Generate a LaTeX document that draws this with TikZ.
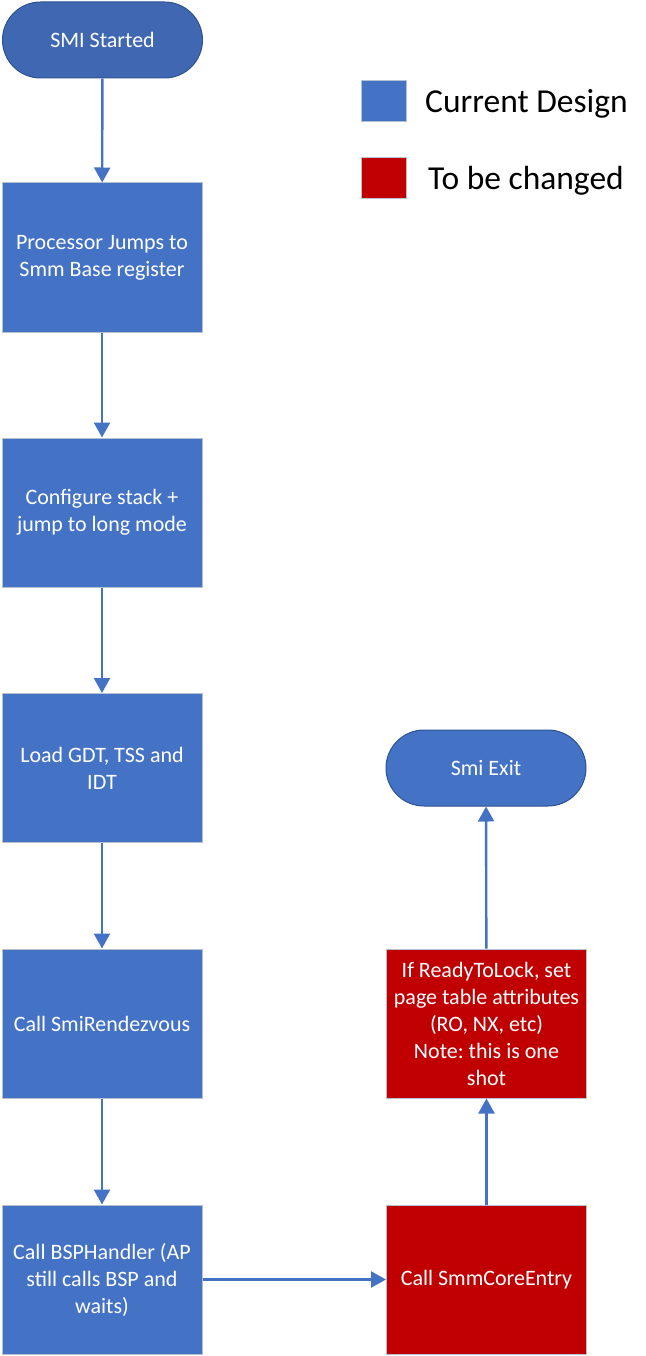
\documentclass[tikz,border=0pt]{standalone}
\usepackage{fontspec}
\setmainfont{Carlito}
\usetikzlibrary{arrows.meta,shapes.misc}
\definecolor{boxblue}{HTML}{4472C4}
\definecolor{termblue}{HTML}{4068B2}
\definecolor{termedge}{HTML}{2F528F}
\definecolor{boxred}{HTML}{C00000}
\definecolor{edgegray}{HTML}{B4BFD0}
\tikzset{
  procbox/.style={draw=edgegray, line width=1pt, fill=boxblue, text=white, minimum width=200pt, minimum height=149pt, text width=198pt, align=flush center, inner sep=0pt, font=\fontsize{22}{27}\selectfont},
  redbox/.style={procbox, fill=boxred, draw=edgegray},
  term/.style={rounded rectangle, draw=termedge, line width=1pt, fill=boxblue, text=white, minimum width=200pt, minimum height=76pt, inner sep=0pt, font=\fontsize{22}{27}\selectfont},
  flow/.style={draw=boxblue, line width=2.4pt, -{Triangle[length=15pt,width=16pt]}},
  legsq/.style={draw=edgegray, line width=1pt, minimum width=45pt, minimum height=41pt, inner sep=0pt},
  legtxt/.style={anchor=west, inner sep=0pt, font=\fontsize{33.5}{38}\selectfont}
}
\frenchspacing
\begin{document}
\begin{tikzpicture}[x=1pt,y=-1pt]
\useasboundingbox (0,0) rectangle (645,1356);
\node[term, fill=termblue] (start) at (102.5,40) {SMI Started};
\node[procbox] (b1) at (102,257.5) {Processor Jumps to\\Smm Base register};
\node[procbox] (b2) at (102,512.5) {Configure stack +\\jump to long mode};
\node[procbox] (b3) at (102,768) {Load GDT, TSS and\\IDT};
\node[procbox] (b4) at (102,1023.5) {Call SmiRendezvous};
\node[procbox] (b5) at (102,1279.5) {Call BSPHandler (AP\\still calls BSP and\\waits)};
\node[redbox] (r1) at (486.5,1279.5) {Call SmmCoreEntry};
\node[redbox] (r2) at (486.5,1023.5) {If ReadyToLock, set\\page table attributes\\(RO, NX, etc)\\Note: this is one\\shot};
\node[term] (exit) at (486,768) {Smi Exit};
\node[legsq, fill=boxblue] (lg1) at (383.5,101.5) {};
\node[legtxt] (lt1) at (425,103.5) {Current Design};
\node[legsq, fill=boxred] (lg2) at (383.5,178.5) {};
\node[legtxt] (lt2) at (428,181) {To be changed};
\draw[flow] (start) -- (b1);
\draw[flow] (b1) -- (b2);
\draw[flow] (b2) -- (b3);
\draw[flow] (b3) -- (b4);
\draw[flow] (b4) -- (b5);
\draw[flow] (b5) -- (r1);
\draw[flow] (r1) -- (r2);
\draw[flow] (r2) -- (exit);
\end{tikzpicture}
\end{document}
